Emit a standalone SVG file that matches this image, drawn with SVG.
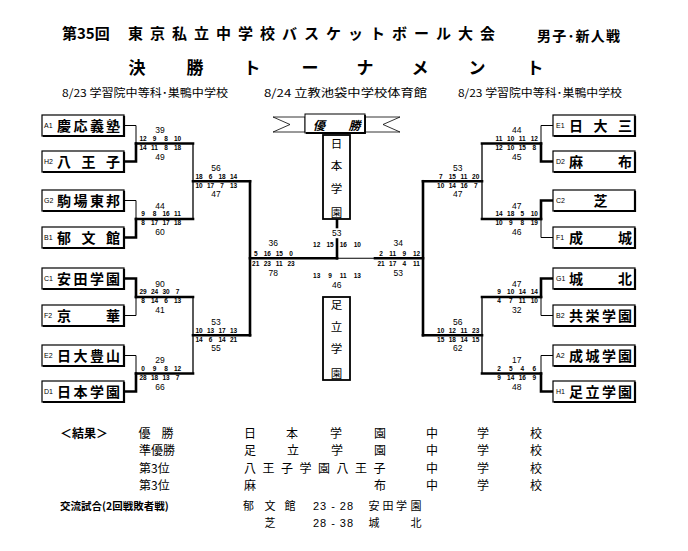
<svg xmlns="http://www.w3.org/2000/svg" width="688" height="551" viewBox="0 0 688 551">
<style>
.bg{fill:#fff}
.t{fill:none;stroke:#000;stroke-width:1}
.m{fill:none;stroke:#000;stroke-width:1.3}
.k{fill:none;stroke:#000;stroke-width:2.6;stroke-linecap:square}
.bx{fill:#fff;stroke:#000;stroke-width:1.2}
.sh{fill:none;stroke:#000;stroke-width:2.2}
.cb{fill:#fff;stroke:#000;stroke-width:1.8}
.p{font-family:"Liberation Sans",Arial,sans-serif;font-size:6.5px;font-weight:bold;text-anchor:middle;fill:#000}
.s{font-family:"Liberation Sans",Arial,sans-serif;font-size:8.5px;text-anchor:middle;fill:#000}
.sd{font-family:"Liberation Sans",Arial,sans-serif;font-size:7px;fill:#000}
.n{font-family:"Noto Sans CJK JP","Noto Sans CJK SC",sans-serif;font-size:14px;font-weight:bold;text-anchor:middle;fill:#000}
.v{font-family:"Noto Sans CJK JP","Noto Sans CJK SC",sans-serif;font-size:11.5px;text-anchor:middle;fill:#000}
.h{font-family:"Noto Sans CJK JP","Noto Sans CJK SC",sans-serif;font-weight:bold;fill:#000}
.d{font-family:"Noto Sans CJK JP","Noto Sans CJK SC",sans-serif;font-size:11px;fill:#000}
.r{font-family:"Noto Sans CJK JP","Noto Sans CJK SC",sans-serif;font-size:12px;text-anchor:middle;fill:#000}
.rl{font-family:"Noto Sans CJK JP","Noto Sans CJK SC",sans-serif;font-size:12px;fill:#000}
.x{font-family:"Noto Sans CJK JP","Noto Sans CJK SC",sans-serif;font-size:11px;text-anchor:middle;fill:#000}
.sc{font-family:"Liberation Sans",Arial,sans-serif;font-size:11px;fill:#000}
</style>
<rect class="bg" x="0" y="0" width="688" height="551"/>

<g id="header">
<text class="h" x="62" y="39" font-size="15">第35回</text>
<text class="h" x="128" y="39" font-size="15" letter-spacing="7">東京私立中学校バスケットボール大会</text>
<text class="h" x="537" y="40.5" font-size="14" letter-spacing="1.2">男子･新人戦</text>
<text class="h" y="74" font-size="17" text-anchor="middle" x="137 195 252 310 365 420 477 535">決勝トーナメント</text>
<text class="d" x="62" y="97" textLength="166" lengthAdjust="spacingAndGlyphs">8/23  学習院中等科･巣鴨中学校</text>
<text class="d" x="264" y="97" textLength="163" lengthAdjust="spacingAndGlyphs">8/24  立教池袋中学校体育館</text>
<text class="d" x="458" y="97" textLength="164" lengthAdjust="spacingAndGlyphs">8/23  学習院中等科･巣鴨中学校</text>
</g>

<g id="connectors">
<path class="t" d="M124 125.5 H136 V143.5"/>
<path class="k" d="M124 161.5 H136 V143.5"/>
<path class="k" d="M136 143.5 H193"/>
<path class="t" d="M124 200.5 H136 V219"/>
<path class="k" d="M124 237.5 H136 V219"/>
<path class="k" d="M136 219 H193"/>
<path class="k" d="M124 278.5 H136 V297"/>
<path class="t" d="M124 315.5 H136 V297"/>
<path class="k" d="M136 297 H193"/>
<path class="t" d="M124 355.5 H136 V373.5"/>
<path class="k" d="M124 391.5 H136 V373.5"/>
<path class="k" d="M136 373.5 H193"/>
<path class="m" d="M193 143.5 V219"/>
<path class="m" d="M193 297 V373.5"/>
<path class="k" d="M193 181.25 H250"/>
<path class="k" d="M193 335.25 H250"/>
<path class="k" d="M250 181.25 V335.25"/>
<path class="k" d="M250 258.25 H337"/>
<path class="k" d="M337 219 V227"/>
<path class="k" d="M337 239.5 V258.25"/>
<path class="t" d="M337 258.25 H375"/>
<path class="k" d="M375 258.25 H423"/>
<path class="k" d="M423 181.25 V335.25"/>
<path class="k" d="M423 181.25 H482"/>
<path class="k" d="M423 335.25 H482"/>
<path class="m" d="M482 143.5 V219"/>
<path class="m" d="M482 297 V373.5"/>
<path class="k" d="M482 143.5 H541"/>
<path class="k" d="M482 219 H541"/>
<path class="k" d="M482 297 H541"/>
<path class="k" d="M482 373.5 H541"/>
<path class="t" d="M553 125.5 H541 V143.5"/>
<path class="k" d="M553 161.5 H541 V143.5"/>
<path class="k" d="M553 200.5 H541 V219"/>
<path class="t" d="M553 237.5 H541 V219"/>
<path class="k" d="M553 278.5 H541 V297"/>
<path class="t" d="M553 315.5 H541 V297"/>
<path class="t" d="M553 355.5 H541 V373.5"/>
<path class="k" d="M553 391.5 H541 V373.5"/>
</g>

<g id="scores">
<text class="s" x="160" y="133">39</text>
<text class="p" y="140.8"><tspan x="143">12</tspan><tspan x="154.5">9</tspan><tspan x="166">8</tspan><tspan x="177.5">10</tspan></text>
<text class="p" y="149.8"><tspan x="143">14</tspan><tspan x="154.5">11</tspan><tspan x="166">8</tspan><tspan x="177.5">18</tspan></text>
<text class="s" x="160" y="159.5">49</text>
<text class="s" x="160" y="208.5">44</text>
<text class="p" y="216.3"><tspan x="143">9</tspan><tspan x="154.5">8</tspan><tspan x="166">16</tspan><tspan x="177.5">11</tspan></text>
<text class="p" y="225.3"><tspan x="143">8</tspan><tspan x="154.5">17</tspan><tspan x="166">17</tspan><tspan x="177.5">18</tspan></text>
<text class="s" x="160" y="235">60</text>
<text class="s" x="160" y="286.5">90</text>
<text class="p" y="294.3"><tspan x="143">29</tspan><tspan x="154.5">24</tspan><tspan x="166">30</tspan><tspan x="177.5">7</tspan></text>
<text class="p" y="303.3"><tspan x="143">8</tspan><tspan x="154.5">14</tspan><tspan x="166">6</tspan><tspan x="177.5">13</tspan></text>
<text class="s" x="160" y="313">41</text>
<text class="s" x="160" y="363">29</text>
<text class="p" y="370.8"><tspan x="143">0</tspan><tspan x="154.5">9</tspan><tspan x="166">8</tspan><tspan x="177.5">12</tspan></text>
<text class="p" y="379.8"><tspan x="143">28</tspan><tspan x="154.5">18</tspan><tspan x="166">13</tspan><tspan x="177.5">7</tspan></text>
<text class="s" x="160" y="389.5">66</text>
<text class="s" x="216" y="170.75">56</text>
<text class="p" y="178.55"><tspan x="199">18</tspan><tspan x="210.5">6</tspan><tspan x="222">18</tspan><tspan x="233.5">14</tspan></text>
<text class="p" y="187.55"><tspan x="199">10</tspan><tspan x="210.5">17</tspan><tspan x="222">7</tspan><tspan x="233.5">13</tspan></text>
<text class="s" x="216" y="197.25">47</text>
<text class="s" x="216" y="324.75">53</text>
<text class="p" y="332.55"><tspan x="199">10</tspan><tspan x="210.5">13</tspan><tspan x="222">17</tspan><tspan x="233.5">13</tspan></text>
<text class="p" y="341.55"><tspan x="199">14</tspan><tspan x="210.5">6</tspan><tspan x="222">14</tspan><tspan x="233.5">21</tspan></text>
<text class="s" x="216" y="351.25">55</text>
<text class="s" x="273.3" y="246.3">36</text>
<text class="p" y="255.6"><tspan x="255.7">5</tspan><tspan x="267.3">16</tspan><tspan x="279.3">15</tspan><tspan x="291">0</tspan></text>
<text class="p" y="266.3"><tspan x="255.7">21</tspan><tspan x="267.3">23</tspan><tspan x="279.3">11</tspan><tspan x="291">23</tspan></text>
<text class="s" x="273.3" y="275.7">78</text>
<text class="s" x="336.7" y="236.3">53</text>
<text class="p" y="247.3"><tspan x="316.7">12</tspan><tspan x="330">15</tspan><tspan x="343.3">16</tspan><tspan x="357.3">10</tspan></text>
<text class="p" y="277.8"><tspan x="316.7">13</tspan><tspan x="330">9</tspan><tspan x="343.3">11</tspan><tspan x="357.3">13</tspan></text>
<text class="s" x="336.7" y="287.5">46</text>
<text class="s" x="398.3" y="246.3">34</text>
<text class="p" y="255.6"><tspan x="381">2</tspan><tspan x="392.7">11</tspan><tspan x="404.3">9</tspan><tspan x="416.5">12</tspan></text>
<text class="p" y="266.3"><tspan x="381">21</tspan><tspan x="392.7">17</tspan><tspan x="404.3">4</tspan><tspan x="416.5">11</tspan></text>
<text class="s" x="398.3" y="275.7">53</text>
<text class="s" x="457.7" y="170.75">53</text>
<text class="p" y="178.55"><tspan x="440.7">7</tspan><tspan x="452.3">15</tspan><tspan x="464">11</tspan><tspan x="475.7">20</tspan></text>
<text class="p" y="187.55"><tspan x="440.7">10</tspan><tspan x="452.3">14</tspan><tspan x="464">16</tspan><tspan x="475.7">7</tspan></text>
<text class="s" x="457.7" y="197.25">47</text>
<text class="s" x="457.7" y="324.75">56</text>
<text class="p" y="332.55"><tspan x="440.7">10</tspan><tspan x="452.3">12</tspan><tspan x="464">11</tspan><tspan x="475.7">23</tspan></text>
<text class="p" y="341.55"><tspan x="440.7">15</tspan><tspan x="452.3">18</tspan><tspan x="464">14</tspan><tspan x="475.7">15</tspan></text>
<text class="s" x="457.7" y="351.25">62</text>
<text class="s" x="516.7" y="133">44</text>
<text class="p" y="140.8"><tspan x="499">11</tspan><tspan x="510.7">10</tspan><tspan x="522.3">11</tspan><tspan x="534.3">12</tspan></text>
<text class="p" y="149.8"><tspan x="499">12</tspan><tspan x="510.7">10</tspan><tspan x="522.3">15</tspan><tspan x="534.3">8</tspan></text>
<text class="s" x="516.7" y="159.5">45</text>
<text class="s" x="516.7" y="208.5">47</text>
<text class="p" y="216.3"><tspan x="499">14</tspan><tspan x="510.7">18</tspan><tspan x="522.3">5</tspan><tspan x="534.3">10</tspan></text>
<text class="p" y="225.3"><tspan x="499">10</tspan><tspan x="510.7">9</tspan><tspan x="522.3">8</tspan><tspan x="534.3">19</tspan></text>
<text class="s" x="516.7" y="235">46</text>
<text class="s" x="516.7" y="286.5">47</text>
<text class="p" y="294.3"><tspan x="499">9</tspan><tspan x="510.7">10</tspan><tspan x="522.3">14</tspan><tspan x="534.3">14</tspan></text>
<text class="p" y="303.3"><tspan x="499">4</tspan><tspan x="510.7">7</tspan><tspan x="522.3">11</tspan><tspan x="534.3">10</tspan></text>
<text class="s" x="516.7" y="313">32</text>
<text class="s" x="516.7" y="363">17</text>
<text class="p" y="370.8"><tspan x="499">2</tspan><tspan x="510.7">5</tspan><tspan x="522.3">4</tspan><tspan x="534.3">6</tspan></text>
<text class="p" y="379.8"><tspan x="499">9</tspan><tspan x="510.7">14</tspan><tspan x="522.3">16</tspan><tspan x="534.3">9</tspan></text>
<text class="s" x="516.7" y="389.5">48</text>
</g>

<g id="team-A1"><rect class="bx" x="42" y="115" width="82" height="21"/><path class="sh" d="M124 116 V136 H43"/><text class="sd" x="44" y="128">A1</text><text class="n" y="130.5" x="64 80.5 97 113">慶応義塾</text></g>
<g id="team-H2"><rect class="bx" x="42" y="151" width="82" height="21"/><path class="sh" d="M124 152 V172 H43"/><text class="sd" x="44" y="164">H2</text><text class="n" y="166.5" x="64 88.5 113">八王子</text></g>
<g id="team-G2"><rect class="bx" x="42" y="190" width="82" height="21"/><path class="sh" d="M124 191 V211 H43"/><text class="sd" x="44" y="203">G2</text><text class="n" y="205.5" x="64 80.5 97 113">駒場東邦</text></g>
<g id="team-B1"><rect class="bx" x="42" y="227" width="82" height="21"/><path class="sh" d="M124 228 V248 H43"/><text class="sd" x="44" y="240">B1</text><text class="n" y="242.5" x="64 88.5 113">郁文館</text></g>
<g id="team-C1"><rect class="bx" x="42" y="268" width="82" height="21"/><path class="sh" d="M124 269 V289 H43"/><text class="sd" x="44" y="281">C1</text><text class="n" y="283.5" x="64 80.5 97 113">安田学園</text></g>
<g id="team-F2"><rect class="bx" x="42" y="305" width="82" height="21"/><path class="sh" d="M124 306 V326 H43"/><text class="sd" x="44" y="318">F2</text><text class="n" y="320.5" x="64 113">京華</text></g>
<g id="team-E2"><rect class="bx" x="42" y="345" width="82" height="21"/><path class="sh" d="M124 346 V366 H43"/><text class="sd" x="44" y="358">E2</text><text class="n" y="360.5" x="64 80.5 97 113">日大豊山</text></g>
<g id="team-D1"><rect class="bx" x="42" y="381" width="82" height="21"/><path class="sh" d="M124 382 V402 H43"/><text class="sd" x="44" y="394">D1</text><text class="n" y="396.5" x="64 80.5 97 113">日本学園</text></g>

<g id="team-E1"><rect class="bx" x="553" y="115" width="82" height="21"/><path class="sh" d="M635 116 V136 H554"/><text class="sd" x="556" y="128">E1</text><text class="n" y="130.5" x="576 600.5 625">日大三</text></g>
<g id="team-D2"><rect class="bx" x="553" y="151" width="82" height="21"/><path class="sh" d="M635 152 V172 H554"/><text class="sd" x="556" y="164">D2</text><text class="n" y="166.5" x="576 625">麻布</text></g>
<g id="team-C2"><rect class="bx" x="553" y="190" width="82" height="21"/><path class="sh" d="M635 191 V211 H554"/><text class="sd" x="556" y="203">C2</text><text class="n" y="205.5" x="600.5">芝</text></g>
<g id="team-F1"><rect class="bx" x="553" y="227" width="82" height="21"/><path class="sh" d="M635 228 V248 H554"/><text class="sd" x="556" y="240">F1</text><text class="n" y="242.5" x="576 625">成城</text></g>
<g id="team-G1"><rect class="bx" x="553" y="268" width="82" height="21"/><path class="sh" d="M635 269 V289 H554"/><text class="sd" x="556" y="281">G1</text><text class="n" y="283.5" x="576 625">城北</text></g>
<g id="team-B2"><rect class="bx" x="553" y="305" width="82" height="21"/><path class="sh" d="M635 306 V326 H554"/><text class="sd" x="556" y="318">B2</text><text class="n" y="320.5" x="576 592.5 609 625">共栄学園</text></g>
<g id="team-A2"><rect class="bx" x="553" y="345" width="82" height="21"/><path class="sh" d="M635 346 V366 H554"/><text class="sd" x="556" y="358">A2</text><text class="n" y="360.5" x="576 592.5 609 625">成城学園</text></g>
<g id="team-H1"><rect class="bx" x="553" y="381" width="82" height="21"/><path class="sh" d="M635 382 V402 H554"/><text class="sd" x="556" y="394">H1</text><text class="n" y="396.5" x="576 592.5 609 625">足立学園</text></g>

<g id="banner">
<polygon points="273,117 305,117 305,132 273,132 290,124.5" fill="#fff" stroke="#000" stroke-width="0.8"/>
<polygon points="400,117 365,117 365,132 400,132 383,124.5" fill="#fff" stroke="#000" stroke-width="0.8"/>
<rect x="305" y="114" width="60" height="19" fill="#fff" stroke="#000" stroke-width="1"/>
<path d="M306 133 H365 V115" fill="none" stroke="#000" stroke-width="1.8"/>
<text class="h" x="319" y="129.5" font-size="12" font-style="italic" text-anchor="middle">優</text>
<text class="h" x="354.5" y="129.5" font-size="12" font-style="italic" text-anchor="middle">勝</text>
</g>
<g id="champion"><rect class="cb" x="323" y="135" width="27" height="84"/><text class="v" x="336.5" y="147.5">日</text><text class="v" x="336.5" y="170">本</text><text class="v" x="336.5" y="193">学</text><text class="v" x="336.5" y="216.5">園</text></g>
<g id="runner-up"><rect class="cb" x="323" y="297" width="27" height="83"/><text class="v" x="336.5" y="309.2">足</text><text class="v" x="336.5" y="331">立</text><text class="v" x="336.5" y="353.3">学</text><text class="v" x="336.5" y="377.5">園</text></g>

<g id="results">
<text class="h" x="60" y="438" font-size="12">＜結果＞</text>
<text class="r" y="438" x="144.5 167.5">優勝</text>
<text class="rl" x="139" y="455.3">準優勝</text>
<text class="rl" x="139" y="472.8">第3位</text>
<text class="rl" x="139" y="490.3">第3位</text>
<text class="r" y="438" x="250 292 336 380 432 483 536">日本学園中学校</text>
<text class="r" y="455.3" x="250 293 337 380 432 483 536">足立学園中学校</text>
<text class="r" y="472.8" x="250 268.5 287 305.5 324 342.5 361 379.5 432 483 536">八王子学園八王子中学校</text>
<text class="r" y="490.3" x="250 380 432 483 536">麻布中学校</text>
<text class="h" x="60" y="510" font-size="10.5">交流試合(2回戦敗者戦)</text>
<text class="x" y="510" x="248.6 270 290">郁文館</text>
<text class="sc" x="313" y="510" textLength="40" lengthAdjust="spacing">23 - 28</text>
<text class="x" y="510" x="374 388 401.5 416">安田学園</text>
<text class="x" y="526.5" x="270">芝</text>
<text class="sc" x="313" y="526.5" textLength="40" lengthAdjust="spacing">28 - 38</text>
<text class="x" y="526.5" x="374 416">城北</text>
</g>
</svg>
